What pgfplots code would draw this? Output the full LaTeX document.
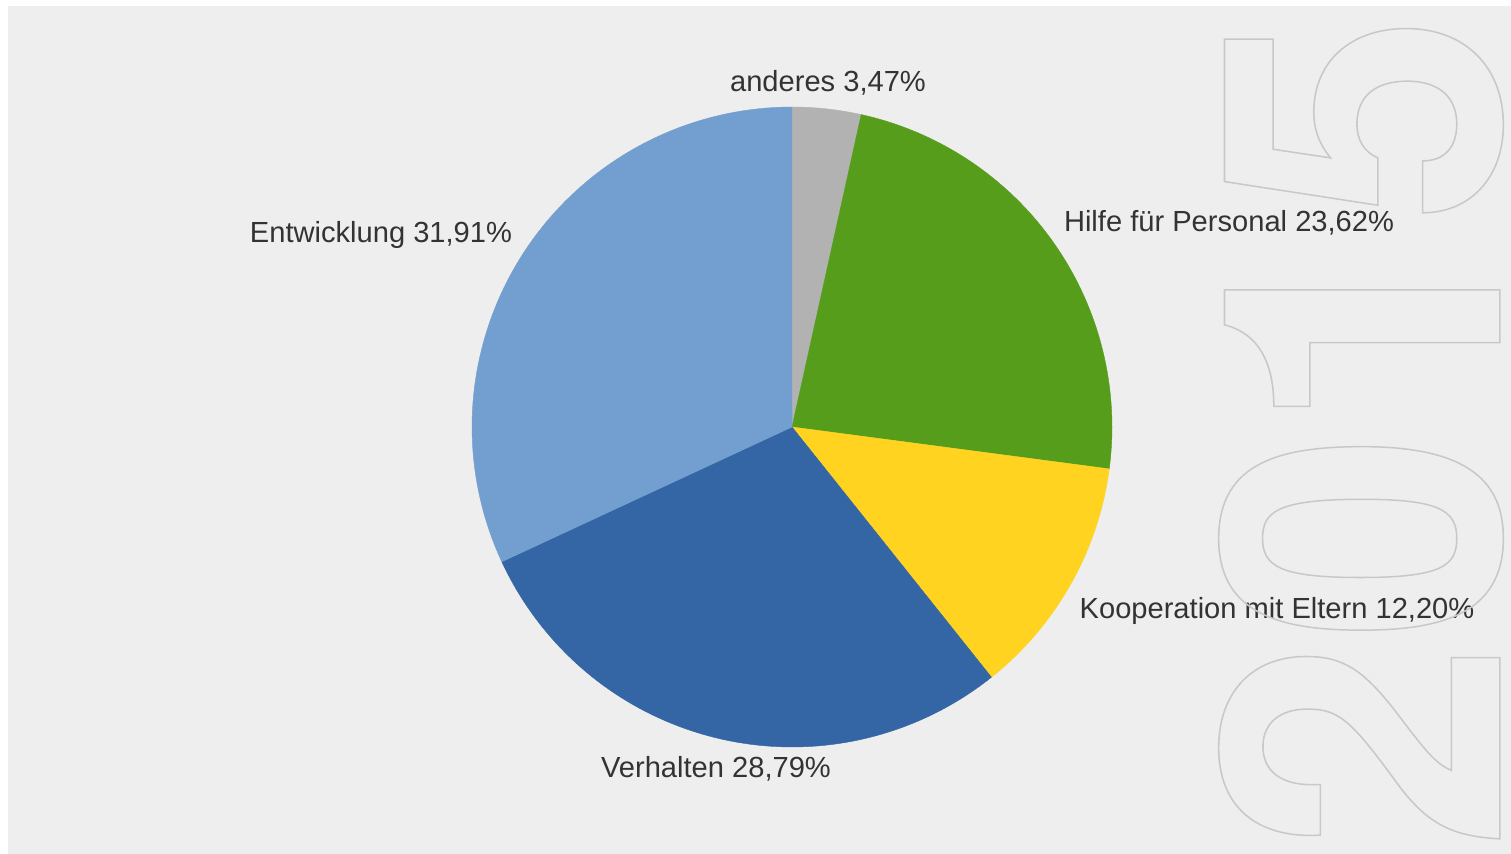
\documentclass[border=0pt]{standalone}
\usepackage{pgfplots}
\pgfplotsset{compat=1.18}
\usepackage{fontspec}
\setmainfont{Liberation Sans}
\newfontfamily\wmfont{TeX Gyre Heros}
\definecolor{bg}{HTML}{EEEEEE}
\definecolor{txt}{HTML}{333333}
\definecolor{wm}{HTML}{C8C8C8}
\definecolor{cGray}{HTML}{B2B2B2}
\definecolor{cGreen}{HTML}{579D1C}
\definecolor{cYellow}{HTML}{FFD320}
\definecolor{cDark}{HTML}{3465A4}
\definecolor{cLight}{HTML}{729FCF}
% shares in percent, clockwise from the top
\def\pA{3.47}   % anderes
\def\pB{23.62}  % Hilfe fuer Personal
\def\pC{12.20}  % Kooperation mit Eltern
\def\pD{28.79}  % Verhalten
\def\pE{31.91}  % Entwicklung
\begin{document}
\begin{tikzpicture}
\fill[white] (0,0) rectangle (755.5pt,427pt);
\fill[bg] (4pt,0) rectangle (755.5pt,424pt);
\begin{axis}[at={(0,0)},anchor=south west,
  scale only axis, width=755.5pt, height=427pt,
  xmin=0, xmax=1511, ymin=0, ymax=854, y dir=reverse,
  hide axis, clip=false,
  every axis plot/.append style={samples=80, line width=0.2pt}]
\pgfmathsetmacro\cA{\pA}
\pgfmathsetmacro\cB{\cA+\pB}
\pgfmathsetmacro\cC{\cB+\pC}
\pgfmathsetmacro\cD{\cC+\pD}
\pgfmathsetmacro\cE{\cD+\pE}
\addplot[fill=cGray, draw=cGray, domain=0:\cA] ({792+320*sin(3.6*x)},{427-320*cos(3.6*x)}) -- (axis cs:792,427) -- cycle;
\addplot[fill=cGreen, draw=cGreen, domain=\cA:\cB] ({792+320*sin(3.6*x)},{427-320*cos(3.6*x)}) -- (axis cs:792,427) -- cycle;
\addplot[fill=cYellow, draw=cYellow, domain=\cB:\cC] ({792+320*sin(3.6*x)},{427-320*cos(3.6*x)}) -- (axis cs:792,427) -- cycle;
\addplot[fill=cDark, draw=cDark, domain=\cC:\cD] ({792+320*sin(3.6*x)},{427-320*cos(3.6*x)}) -- (axis cs:792,427) -- cycle;
\addplot[fill=cLight, draw=cLight, domain=\cD:\cE] ({792+320*sin(3.6*x)},{427-320*cos(3.6*x)}) -- (axis cs:792,427) -- cycle;
\begin{scope}[every node/.style={text=txt, inner sep=0pt, anchor=base, font=\fontsize{14.55pt}{17pt}\selectfont}]
\node at (axis cs:828,92) {anderes 3,47\%};
\node at (axis cs:1229,232) {Hilfe für Personal 23,62\%};
\node at (axis cs:1277,619) {Kooperation mit Eltern 12,20\%};
\node at (axis cs:716,778) {Verhalten 28,79\%};
\node at (axis cs:381,243) {Entwicklung 31,91\%};
\end{scope}
\node[rotate=90, inner sep=0pt, anchor=center] at (axis cs:1361,432)
  {\color{wm}\special{pdf:literal direct 1 Tr 0.75 w}\scalebox{1}[1.033]{\wmfont\fontsize{188pt}{190pt}\selectfont\bfseries 2015}\special{pdf:literal direct 0 Tr}};
\end{axis}
\end{tikzpicture}
\end{document}
